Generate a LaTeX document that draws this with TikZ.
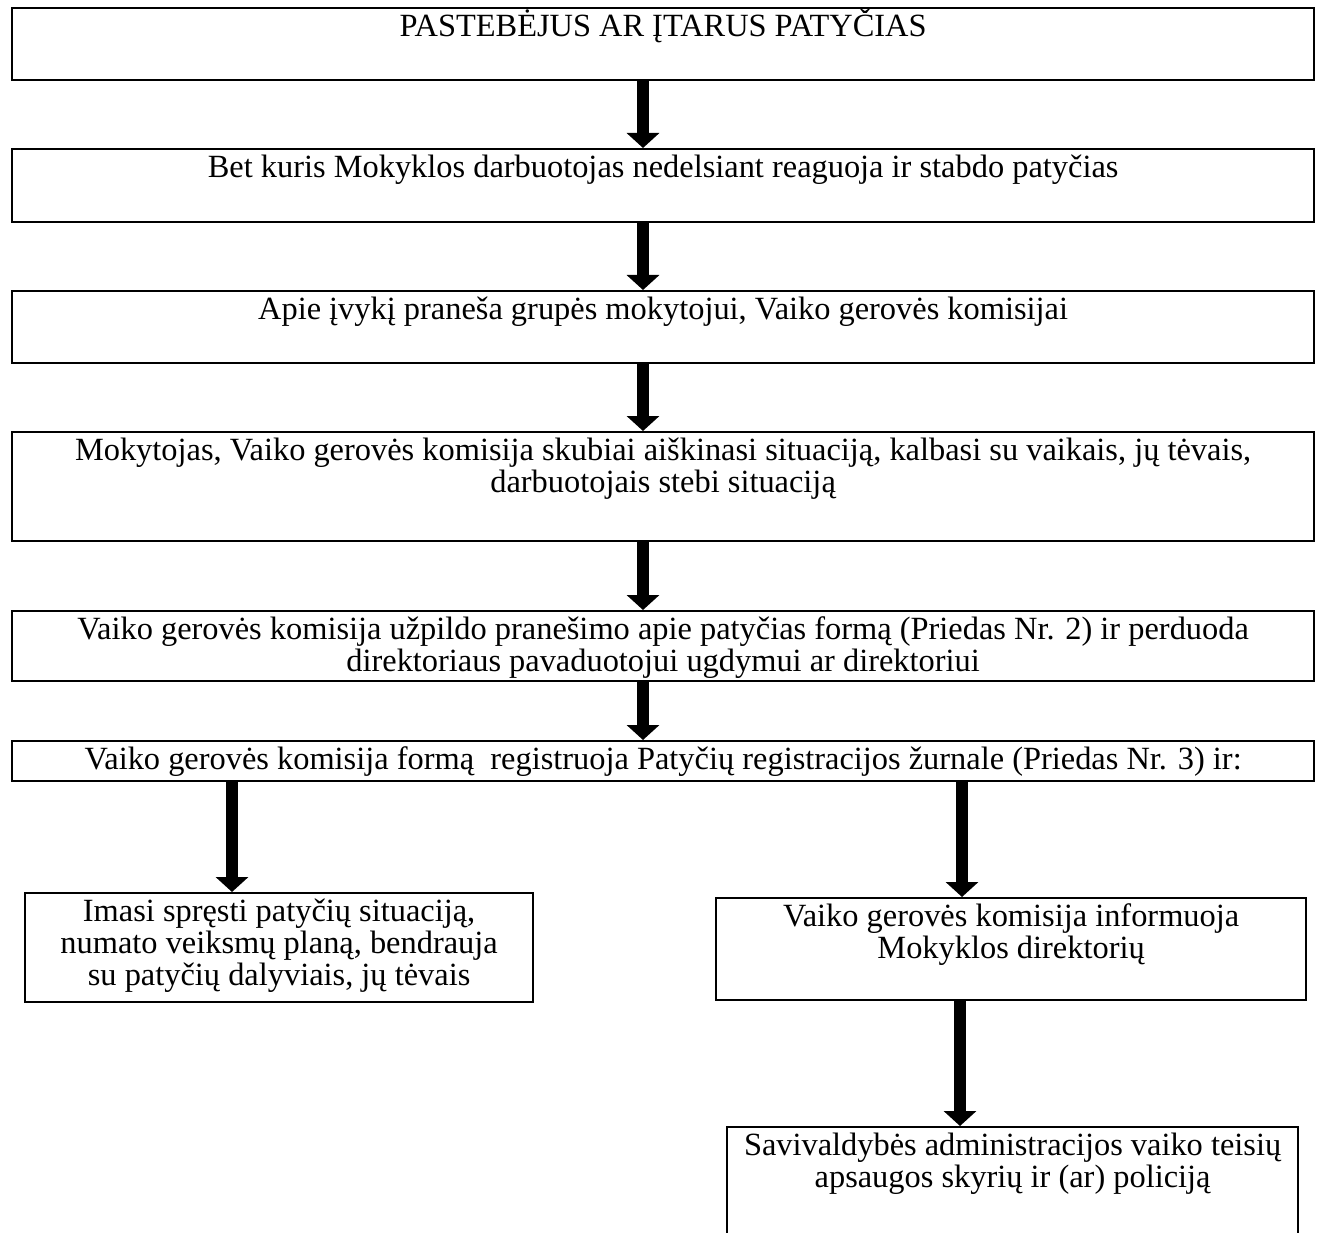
\documentclass[tikz,border=0pt]{standalone}
\usepackage{fontspec}
\setmainfont{Liberation Serif}
\usetikzlibrary{arrows.meta}
\newcommand\fbtext[3]{\parbox[t][#2pt][t]{#1pt}{\centering\rule{0pt}{28pt}#3}}
\tikzset{
  box/.style={draw, line width=2.2pt, inner sep=0pt, anchor=north west,
    font=\fontsize{32.4}{32}\selectfont},
  flow/.style={line width=12pt, -{Triangle[width=32pt,length=15pt]}},
}
\begin{document}
\begin{tikzpicture}[x=1pt,y=-1pt]
\clip (0,0) rectangle (1317,1233);
\fill[white] (0,0) rectangle (1317,1233);
\node[box] (b1) at (11,7) {\fbtext{1302}{72}{PASTEBĖJUS AR ĮTARUS PATYČIAS}};
\node[box] (b2) at (11,148) {\fbtext{1302}{73}{Bet kuris Mokyklos darbuotojas nedelsiant reaguoja ir stabdo patyčias}};
\node[box] (b3) at (11,290) {\fbtext{1302}{72}{Apie įvykį praneša grupės mokytojui, Vaiko gerovės komisijai}};
\node[box] (b4) at (11,431) {\fbtext{1302}{109}{Mokytojas, Vaiko gerovės komisija skubiai aiškinasi situaciją, kalbasi su vaikais, jų tėvais,\\darbuotojais stebi situaciją}};
\node[box] (b5) at (11,610) {\fbtext{1302}{70}{Vaiko gerovės komisija užpildo pranešimo apie patyčias formą (Priedas Nr. 2) ir perduoda\\direktoriaus pavaduotojui ugdymui ar direktoriui}};
\node[box] (b6) at (11,740) {\fbtext{1302}{40}{Vaiko gerovės komisija formą\ \ registruoja Patyčių registracijos žurnale (Priedas Nr. 3) ir:}};
\node[box] (lb) at (24,892) {\fbtext{508}{109}{Imasi spręsti patyčių situaciją,\\numato veiksmų planą, bendrauja\\su patyčių dalyviais, jų tėvais}};
\node[box] (rb) at (715,897) {\fbtext{590}{102}{Vaiko gerovės komisija informuoja\\Mokyklos direktorių}};
\node[box] (bb) at (726,1126) {\fbtext{571}{160}{Savivaldybės administracijos vaiko teisių\\apsaugos skyrių ir (ar) policiją}};
\coordinate (mx) at (643,0);
\coordinate (lx) at (232,0);
\coordinate (rx) at (962,0);
\coordinate (qx) at (960,0);
\draw[flow] (b1.south -| mx) -- (b2.north -| mx);
\draw[flow] (b2.south -| mx) -- (b3.north -| mx);
\draw[flow] (b3.south -| mx) -- (b4.north -| mx);
\draw[flow] (b4.south -| mx) -- (b5.north -| mx);
\draw[flow] (b5.south -| mx) -- (b6.north -| mx);
\draw[flow] (b6.south -| lx) -- (lb.north -| lx);
\draw[flow] (b6.south -| rx) -- (rb.north -| rx);
\draw[flow] (rb.south -| qx) -- (bb.north -| qx);
\end{tikzpicture}
\end{document}
